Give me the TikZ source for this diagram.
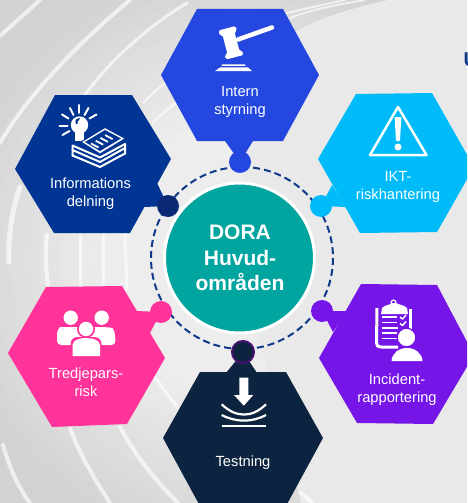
\documentclass[tikz,border=0pt]{standalone}
\usepackage{fontspec}
\setmainfont{Liberation Sans}
\definecolor{bgflat}{HTML}{E9E9E9}
\definecolor{bgin}{HTML}{EDEDED}
\definecolor{bgout}{HTML}{D2D2D2}
\definecolor{cIntern}{HTML}{2447E0}
\definecolor{cInfo}{HTML}{003594}
\definecolor{cInfoDot}{HTML}{0A2A75}
\definecolor{cIkt}{HTML}{00BBF9}
\definecolor{cPink}{HTML}{FF3399}
\definecolor{cPurple}{HTML}{7515E8}
\definecolor{cNavy}{HTML}{0D2440}
\definecolor{cRing}{HTML}{4A1070}
\definecolor{cTeal}{HTML}{00A5A0}
\definecolor{cDash}{HTML}{0F3A8A}
\tikzset{
  swirl/.style={draw=white,line width=#1,opacity=0.65,line cap=round},
  label/.style={text=white,align=center,inner sep=0pt,font=\fontsize{14.7}{18}\selectfont},
  blob/.style={circle,inner sep=0pt,minimum size=22pt},
  iconline/.style={draw=white,line cap=round,line join=round,line width=#1},
}
\begin{document}
\begin{tikzpicture}[x=1pt,y=-1pt]
\useasboundingbox (0,0) rectangle (467,503);
\clip (0,0) rectangle (467,503);
% background
\fill[bgflat] (0,0) rectangle (467,503);
\begin{scope}
  \clip (0,0) -- (385,0) .. controls (330,12) and (285,30) .. (250,60) -- (240,258) -- (300,503) -- (0,503) -- cycle;
  \foreach \r in {420,410,...,90}{
    \pgfmathsetmacro{\p}{max(0,min(100,(300-\r)/1.6))}
    \fill[bgin!\p!bgout] (240,258) circle[radius=\r];
  }
\end{scope}
\draw[swirl=4] (0,36) -- (40,0);
\draw[swirl=4] (0,143) .. controls (25,100) and (70,50) .. (130,0);
\draw[swirl=3] (85,95) .. controls (110,60) and (150,25) .. (187,3);
\draw[swirl=2] (143,103) .. controls (150,95) and (162,85) .. (173,77);
\draw[swirl=2] (153,123) .. controls (160,115) and (170,107) .. (180,100);
\draw[swirl=2] (235,30) .. controls (270,15) and (310,8) .. (345,0);
\draw[swirl=2] (290,18) .. controls (310,10) and (335,5) .. (365,0);
\draw[swirl=5] (20,187) .. controls (12,210) and (8,235) .. (9,262);
\draw[swirl=4] (47,235) .. controls (45,255) and (46,270) .. (48,285);
\draw[swirl=3] (80,235) -- (80,285);
\draw[swirl=3] (103,235) -- (103,285);
\draw[swirl=3] (125,235) -- (127,290);
\draw[swirl=4] (3,445) .. controls (10,470) and (20,490) .. (30,503);
\draw[swirl=4] (70,428) .. controls (80,455) and (95,480) .. (110,503);
\draw[swirl=4] (120,427) .. controls (135,455) and (155,480) .. (178,503);
\draw[swirl=3] (150,370) .. controls (160,385) and (168,395) .. (178,408);
\draw[swirl=4] (300,492) .. controls (304,495) and (308,499) .. (312,503);
% clipped fragment at right edge
\node[anchor=west,inner sep=0pt,text=cDash,font=\fontsize{20}{24}\selectfont\bfseries] (frag) at (463.5,60) {U};
% dashed ring
\draw[cDash,line width=2pt,dash pattern=on 7pt off 4pt] (242,258) circle[radius=91];
% centre
\node[circle,fill=cTeal,draw=white,line width=3pt,minimum size=150pt,inner sep=0pt] (core) at (239.5,258) {};
\node[text=white,align=center,inner sep=0pt,font=\fontsize{21}{25.5}\selectfont\bfseries] (coretext) at (240,258) {DORA\\Huvud-\\områden};
% hexagons with necks and dots
\fill[cIntern] (197,9) -- (283,9) -- (319,75) -- (283,141) -- (197,141) -- (161,75) -- cycle;
\fill[cIntern] (225,141) -- (240,162) -- (253,141) -- cycle;
\node[blob,fill=cIntern] (dotA) at (240,162) {};
\fill[cInfo] (55,95) -- (132,95) -- (171,159) -- (130,233) -- (54,233) -- (15,169) -- cycle;
\fill[cInfo] (157,183) -- (168,206) -- (144,207) -- cycle;
\node[blob,fill=cInfoDot] (dotB) at (168,206) {};
\fill[cIkt] (356,94) -- (432,93) -- (474,167) -- (437,232) -- (360,233) -- (318,159) -- cycle;
\fill[cIkt] (332,185) -- (321,206) -- (346,207) -- cycle;
\node[blob,fill=cIkt] (dotC) at (321,206) {};
\fill[cPink] (46,287) -- (122,286) -- (165,358) -- (127,424) -- (52,427) -- (8,353) -- cycle;
\fill[cPink] (136,311) -- (161,312) -- (150,333) -- cycle;
\node[blob,fill=cPink] (dotD) at (161,312) {};
\fill[cPurple] (361,284) -- (437,285) -- (474,355) -- (433,424) -- (357,423) -- (319,358) -- cycle;
\fill[cPurple] (347,311) -- (322,311) -- (333,332) -- cycle;
\node[blob,fill=cPurple] (dotE) at (322,311) {};
\fill[cNavy] (200,372) -- (286,372) -- (323,438) -- (286,506) -- (200,506) -- (163,438) -- cycle;
\fill[cNavy] (226,373) -- (243,352) -- (257,373) -- cycle;
\node[circle,inner sep=0pt,minimum size=22pt,fill=cNavy,draw=cRing,line width=2pt] (dotF) at (243,352) {};
% gavel
\begin{scope}
  \fill[white,rounded corners=1.5pt] (218.5,30.5) -- (235.5,26) -- (237,31) -- (234.5,31.8) -- (239.5,51) -- (242,50.5) -- (243.5,55) -- (226,59.5) -- (224.5,55) -- (227.5,54.2) -- (222.5,35) -- (220,35.8) -- cycle;
  \draw[iconline=4.5] (238,39.5) -- (272,27.5);
  \fill[white] (222,64.5) -- (245,64.5) -- (245.5,65.8) -- (221.5,65.8) -- cycle;
  \fill[white] (220,67.5) -- (248,67.5) -- (252,71) -- (215,71) -- cycle;
\end{scope}
% bulb and papers
\begin{scope}
  \foreach \a/\b/\c/\d in {79/105/79/113,70/108/73.5/115,88.5/108/84.5/115,96.5/114.5/89.5/118.5,62/114.5/68.5/118.5,59.5/125.5/67.5/125.5,62.5/135/69.5/131}{
    \draw[iconline=2] (\a,\b) -- (\c,\d);
  }
  \fill[white] (79.5,125) circle[radius=8.7];
  \fill[white] (75,130) -- (84,130) -- (84,141) -- (75,141) -- cycle;
  \fill[cInfo] (76,124) .. controls (74,119) and (77,119) .. (80,118) -- (79,120) .. controls (77.5,121) and (77,122) .. (77.5,124) -- cycle;
  \fill[white,draw=cInfo,line width=1pt,line join=round] (81,142) -- (105,127.5) -- (125.5,138.5) -- (100,154) -- cycle;
  \fill[cInfo] (85,142) -- (105,130) -- (121,138.5) -- (100,151) -- cycle;
  \foreach \i in {0,1,2,3}{
    \draw[white,line width=1.8pt] ({91+\i*4.7},{143.5-\i*2.8}) -- ({98.5+\i*4.7},{147.5-\i*2.8});
  }
  \draw[iconline=2] (72.5,150) -- (100,162) -- (125,148);
  \draw[iconline=2] (72.5,155.5) -- (100,167) -- (125,153.5);
  \draw[iconline=2] (72.5,150) -- (72.5,155.5) (125,148) -- (125,153.5) (72.5,145.5) -- (100,157.5) -- (125,144) -- (125,148) (72.5,145.5) -- (72.5,150);
\end{scope}
% warning triangle
\draw[iconline=2.5] (398,107) -- (426.5,155) -- (370,155) -- cycle;
\fill[white,rounded corners=1pt] (394.6,117) -- (401.4,117) -- (400,141) -- (396,141) -- cycle;
\fill[white] (398,147) circle[radius=3.5];
% people
\begin{scope}
  \fill[white] (70.7,317.7) circle[radius=7.2];
  \fill[white] (101.7,317.7) circle[radius=7.2];
  \fill[white,rounded corners=4pt] (57,345) -- (57,330) .. controls (60,327) and (64,327) .. (72,327) -- (88,327) .. controls (100,327) and (112,327) .. (115,332) -- (115.5,345) -- cycle;
  \fill[cPink] (86,329) circle[radius=9];
  \fill[cPink,rounded corners=7pt] (70.5,358) -- (70.5,337) -- (101.5,337) -- (101.5,358) -- cycle;
  \fill[white] (86,329) circle[radius=7.2];
  \fill[white] (72.7,356) -- (72.7,345) .. controls (72.7,340) and (80,338) .. (86,338) .. controls (92,338) and (100,340) .. (100,345) -- (100,356) -- cycle;
\end{scope}
% clipboard and person
\begin{scope}
  \draw[white,line width=3pt,line join=round] (377,308) -- (376.5,343) .. controls (376.5,346) and (378,347) .. (381,347) -- (398,347);
  \draw[white,line width=3pt] (410.5,309) -- (410.5,330);
  \fill[white] (382,308) -- (381,314) -- (408,314) -- (407,308) .. controls (404,305) and (400,305) .. (396,303) -- (393,303) .. controls (389,305) and (385,305) .. (382,308) -- cycle;
  \draw[white,line width=1.2pt] (393.5,302.5) circle[radius=2.4];
  \foreach \yy/\xe in {317/397,322.5/397,328/398,333/397,338.5/397}{
    \draw[white,line width=1.7pt] (382,\yy) -- (\xe,\yy);
  }
  \draw[iconline=1.5,line cap=butt] (400,317) -- (402.5,319) -- (406,315);
  \draw[iconline=1.5,line cap=butt] (400,323.5) -- (402.5,325.5) -- (406,321.5);
  \fill[white,draw=cPurple,line width=1.2pt] (406.5,337.5) circle[radius=9.3];
  \fill[white] (391.5,361) .. controls (392,353) and (399,348) .. (407,348) .. controls (415,348) and (422,353) .. (422.5,361) -- cycle;
\end{scope}
% arrow and waves
\begin{scope}
  \fill[white] (239.3,377.5) -- (248.3,377.5) -- (248.3,395) -- (253.3,395) -- (243.8,405.7) -- (234,395) -- (239.3,395) -- cycle;
  \draw[white,line width=2.2pt] (221.7,404.3) .. controls (236,418) and (252,418) .. (266,404.3);
  \draw[white,line width=2.2pt] (221.7,415) .. controls (236,422.5) and (252,422.5) .. (266,415);
  \draw[white,line width=2.2pt] (221.7,425.7) -- (266,425.7);
\end{scope}
% labels
\node[label] (tA) at (240,101.5) {Intern\\styrning};
\node[label] (tB) at (90.5,194) {Informations\\delning};
\node[label] (tC) at (398,186.5) {IKT-\\riskhantering};
\node[label] (tD) at (86,382.5) {Tredjepars-\\risk};
\node[label] (tE) at (397,390) {Incident-\\rapportering};
\node[label] (tF) at (243,463) {Testning};
\end{tikzpicture}
\end{document}
